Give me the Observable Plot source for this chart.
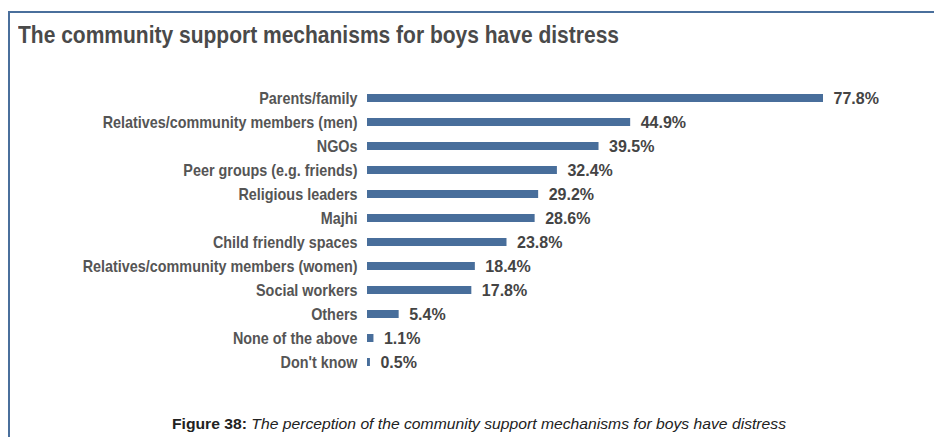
<!DOCTYPE html>
<html>
<head>
<meta charset="utf-8">
<script src="https://cdn.jsdelivr.net/npm/d3@7"></script>
<script src="https://cdn.jsdelivr.net/npm/@observablehq/plot@0.6"></script>
<style>
  html, body { margin: 0; padding: 0; background: #fff; }
  body { width: 934px; height: 437px; position: relative; overflow: hidden; }
  .frame { position: absolute; left: 8px; top: 11px; width: 940px; height: 440px;
           border-top: 2px solid #4a6f9c; border-left: 2px solid #4a6f9c; }
  .title { position: absolute; left: 18px; top: 21px; margin: 0; white-space: nowrap;
           display: inline-block; transform-origin: 0 0;
           font-family: "Liberation Sans", Arial, sans-serif;
           font-weight: bold; font-size: 24px; color: #4a4a4a; }
  #chart { position: absolute; left: 0; top: 86px; }
  .caption { position: absolute; left: 172px; top: 415px; white-space: nowrap;
             display: inline-block; transform-origin: 0 0; line-height: 18px;
             font-family: "Liberation Sans", Arial, sans-serif;
             font-size: 15.5px; color: #222; }
  .caption b { font-weight: bold; }
  .caption i { font-style: italic; }
</style>
</head>
<body>
<div class="frame"></div>
<div class="title" id="title">The community support mechanisms for boys have distress</div>
<div id="chart"></div>
<div class="caption" id="caption"><b>Figure 38:</b> <i>The perception of the community support mechanisms for boys have distress</i></div>
<script>
const categories = [
  "Parents/family",
  "Relatives/community members (men)",
  "NGOs",
  "Peer groups (e.g. friends)",
  "Religious leaders",
  "Majhi",
  "Child friendly spaces",
  "Relatives/community members (women)",
  "Social workers",
  "Others",
  "None of the above",
  "Don't know"
];
const values = [77.8, 44.9, 39.5, 32.4, 29.2, 28.6, 23.8, 18.4, 17.8, 5.4, 1.1, 0.5];

const data = categories.map((c, i) => ({category: c, value: values[i]}));

const chart = Plot.plot({
  width: 934,
  height: 288,
  marginLeft: 367,
  marginRight: 111,
  marginTop: 0,
  marginBottom: 0,
  x: {domain: [0, 77.8], axis: null},
  y: {domain: categories, paddingInner: 0.67, paddingOuter: 0.335, label: null},
  style: {background: "transparent"},
  marks: [
    Plot.barX(data, {x: "value", y: "category", fill: "#486e9b"}),
    Plot.text(data, {
      x: "value", y: "category", text: d => d.value.toFixed(1) + "%",
      textAnchor: "start", dx: 10, fill: "#444", fontWeight: "bold", fontSize: 16,
      fontFamily: "Liberation Sans, Arial, sans-serif"
    }),
    Plot.axisY({tickSize: 0, tickPadding: 10, label: null,
      fontSize: 16, fontWeight: "bold", fill: "#555",
      fontFamily: "Liberation Sans, Arial, sans-serif"})
  ]
});
document.getElementById("chart").appendChild(chart);

// condense text to mimic the narrow typeface of the original
function squeezeHtml(el, target) {
  const w = el.getBoundingClientRect().width;
  el.style.transform = `scaleX(${target / w})`;
}
squeezeHtml(document.getElementById("title"), 601);
squeezeHtml(document.getElementById("caption"), 614);

const labels = Array.from(chart.querySelectorAll("g[aria-label='y-axis tick label'] text"));
const maxW = d3.max(labels, n => n.getBBox().width);
const s = 275 / maxW;
labels.forEach(n => {
  const t = n.getAttribute("transform") || "";
  const x = +n.getAttribute("x") || 0;
  const y = +n.getAttribute("y") || 0;
  n.setAttribute("transform", `${t} translate(${x},${y}) scale(${s},1) translate(${-x},${-y})`);
});
</script>
</body>
</html>
